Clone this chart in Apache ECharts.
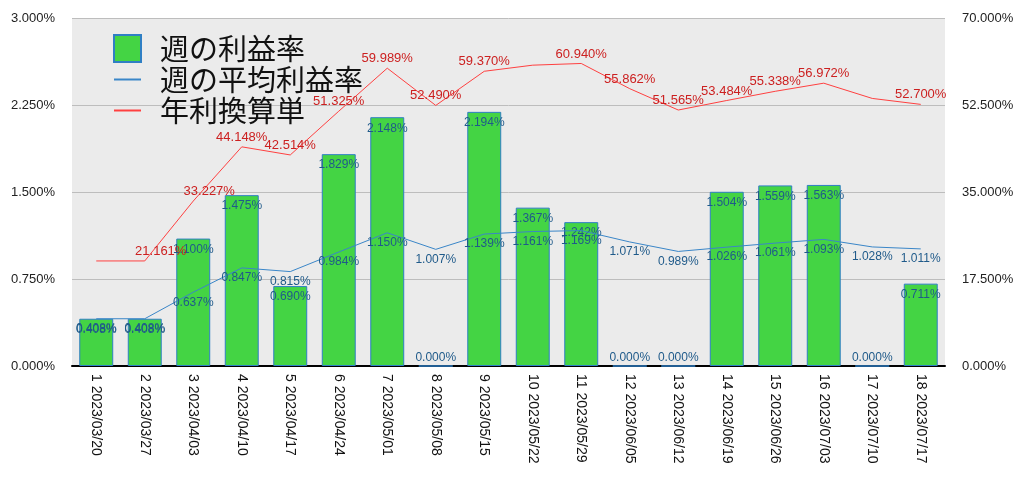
<!DOCTYPE html>
<html><head><meta charset="utf-8">
<script src="https://cdn.jsdelivr.net/npm/echarts@6/dist/echarts.min.js"></script>
<style>html,body{margin:0;padding:0;background:#fff}#c{width:1024px;height:482px}</style>
</head><body><div id="c"></div>
<script>
const categories = ['1 2023/03/20','2 2023/03/27','3 2023/04/03','4 2023/04/10','5 2023/04/17','6 2023/04/24','7 2023/05/01','8 2023/05/08','9 2023/05/15','10 2023/05/22','11 2023/05/29','12 2023/06/05','13 2023/06/12','14 2023/06/19','15 2023/06/26','16 2023/07/03','17 2023/07/10','18 2023/07/17'];
const weeklyRate = [0.408,0.408,1.100,1.475,0.690,1.829,2.148,0.000,2.194,1.367,1.242,0.000,0.000,1.504,1.559,1.563,0.000,0.711];
const weeklyAvg = [0.408,0.408,0.637,0.847,0.815,0.984,1.150,1.007,1.139,1.161,1.169,1.071,0.989,1.026,1.061,1.093,1.028,1.011];
const annualRate = [21.161,21.161,33.227,44.148,42.514,51.325,59.989,52.490,59.370,60.600,60.940,55.862,51.565,53.484,55.338,56.972,53.900,52.700];
const annualHideLabel = [0,9,16];
const leftTicks = {min:0,max:3,interval:0.75};
const rightTicks = {min:0,max:70,interval:17.5};

const font = '"Liberation Sans","Noto Sans CJK JP",sans-serif';
const chart = echarts.init(document.getElementById('c'));
chart.setOption({
  animation:false,
  textStyle:{fontFamily:font},
  grid:{left:72,right:79,top:18.5,bottom:116,show:true,backgroundColor:'#ebebeb',borderWidth:0},
  legend:{
    left:113, top:34, orient:'vertical', itemWidth:27, itemHeight:27, itemGap:2, padding:0,
    textStyle:{fontSize:29, color:'#111', fontFamily:'"Noto Sans CJK JP",sans-serif', padding:[0,0,0,14]},
    data:[
      {name:'週の利益率', icon:'rect'},
      {name:'週の平均利益率', itemStyle:{opacity:0}},
      {name:'年利換算単', itemStyle:{opacity:0}}
    ]
  },
  xAxis:{
    type:'category', data:categories,
    axisLine:{lineStyle:{color:'#000',width:2}},
    axisTick:{show:false},
    axisLabel:{rotate:-90, color:'#111', fontSize:14, margin:8, interval:0}
  },
  yAxis:[
    {type:'value', min:leftTicks.min, max:leftTicks.max, interval:leftTicks.interval,
     axisLine:{show:false}, axisTick:{show:false},
     axisLabel:{formatter:v=>v.toFixed(3)+'%', color:'#222', fontSize:13, margin:17},
     splitLine:{lineStyle:{color:'#bdbdbd',width:1}}},
    {type:'value', min:rightTicks.min, max:rightTicks.max, interval:rightTicks.interval,
     axisLine:{show:false}, axisTick:{show:false},
     axisLabel:{formatter:v=>v.toFixed(3)+'%', color:'#222', fontSize:13, margin:17},
     splitLine:{show:false}}
  ],
  series:[
    {name:'週の利益率', type:'bar', barWidth:'70%', yAxisIndex:0,
     itemStyle:{color:'#44d444', borderColor:'#2f7fc4', borderWidth:1},
     data:weeklyRate.map(v=>({value:v, label: v===0?{position:'top',distance:2}:{}})),
     label:{show:true, position:'insideTop', distance:5, color:'#1f5a8a', fontSize:12,
            formatter:p=>p.value.toFixed(3)+'%'}},
    {name:'週の平均利益率', type:'line', yAxisIndex:0, symbol:'circle', symbolSize:0.01,
     lineStyle:{color:'#3a86c8', width:1}, itemStyle:{color:'#3a86c8'},
     data:weeklyAvg,
     label:{show:true, position:'bottom', distance:4, color:'#1f5a8a', fontSize:12,
            formatter:p=>p.value.toFixed(3)+'%'}},
    {name:'年利換算単', type:'line', yAxisIndex:1, symbol:'circle', symbolSize:0.01,
     lineStyle:{color:'#ff4040', width:1}, itemStyle:{color:'#ff4040'},
     data:annualRate.map((v,i)=>({value:v, label:(i===1||i===2)?{offset:[16,0]}:{}})),
     label:{show:true, position:'top', distance:3, color:'#cc2020', fontSize:13,
            formatter:p=>annualHideLabel.includes(p.dataIndex)?'':p.value.toFixed(3)+'%'}}
  ]
});
</script></body></html>
